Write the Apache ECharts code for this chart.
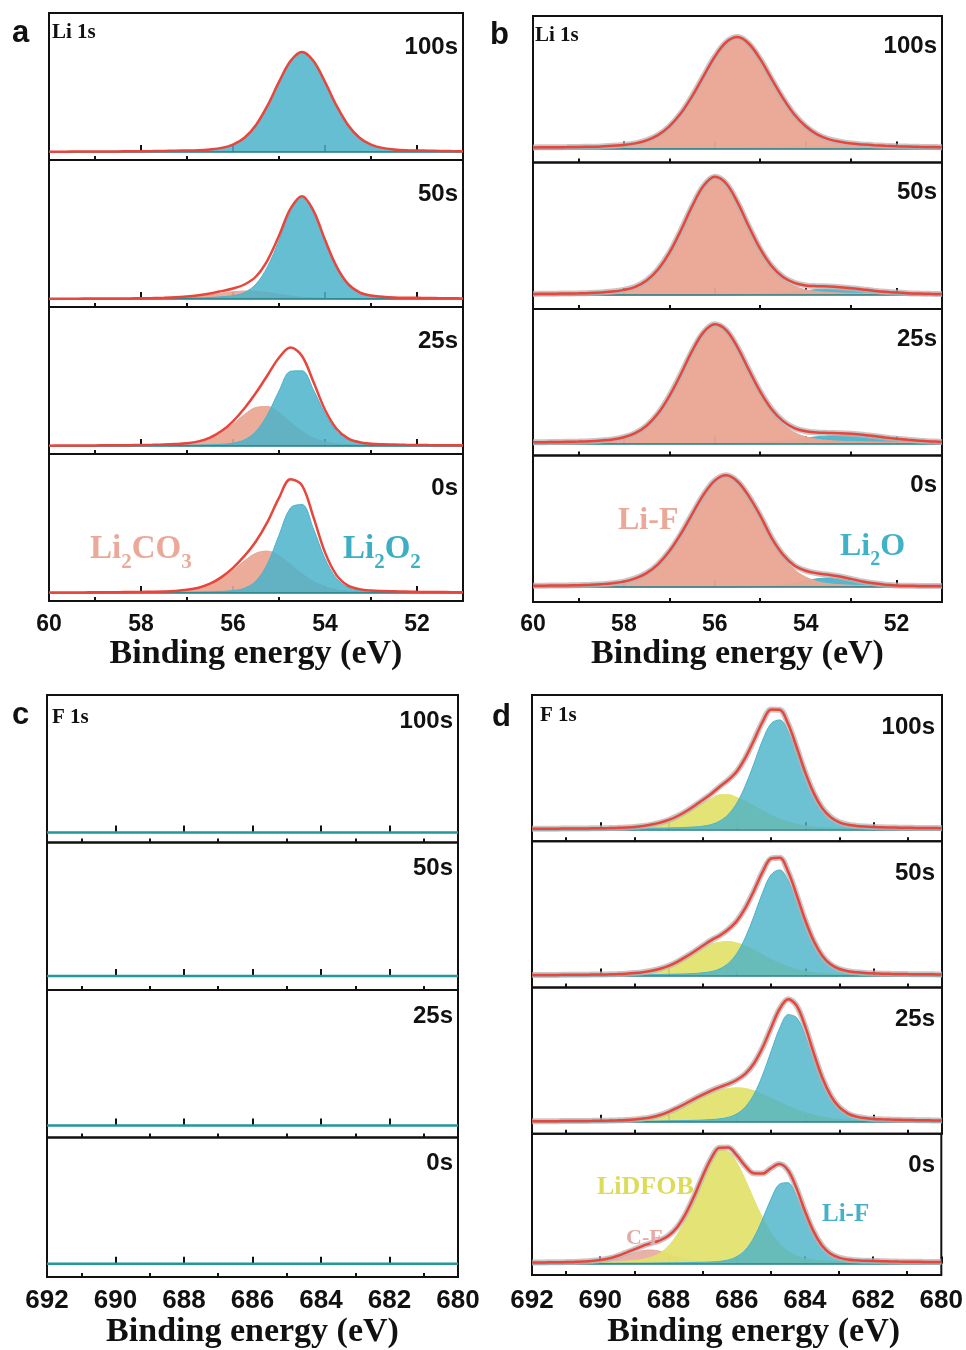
<!DOCTYPE html>
<html>
<head>
<meta charset="utf-8">
<script src="https://cdn.jsdelivr.net/npm/echarts@6/dist/echarts.min.js"></script>
<style>
  html, body { margin: 0; padding: 0; background: #ffffff; }
  #chart { width: 966px; height: 1350px; }
</style>
</head>
<body>
<div id="chart"></div>
<script>
// ---------- energy grids (binding energy, eV) ----------
const liEnergy = [60,59.75,59.5,59.25,59,58.75,58.5,58.25,58,57.75,57.5,57.25,57,56.75,56.5,56.25,56,55.75,55.5,55.25,55,54.75,54.5,54.25,54,53.75,53.5,53.25,53,52.75,52.5,52.25,52,51.75,51.5,51.25,51];
const fEnergy = [692,691.75,691.5,691.25,691,690.75,690.5,690.25,690,689.75,689.5,689.25,689,688.75,688.5,688.25,688,687.75,687.5,687.25,687,686.75,686.5,686.25,686,685.75,685.5,685.25,685,684.75,684.5,684.25,684,683.75,683.5,683.25,683,682.75,682.5,682.25,682,681.75,681.5,681.25,681,680.75,680.5,680.25,680];
const fEnergyCoarse = [692,691,690,689,688,687,686,685,684,683,682,681,680];

// ---------- tick values ----------
const liMajorTicks = [60,58,56,54,52];
const liMinorTicks = [59,57,55,53,51];
const fMajorTicks = [692,690,688,686,684,682,680];
const fMinorTicks = [691,689,687,685,683,681];
const timeLabels = ['100s','50s','25s','0s'];

// ---------- (a) Li 1s ----------
const a100Env    = [0.3,0.3,0.4,0.4,0.5,0.5,0.6,0.7,0.8,0.9,1.1,1.3,1.5,1.8,2.6,4.1,7.4,14.3,27,46.4,70.1,91,100,91,70.1,46.4,27,14.3,7.4,4.1,2.6,1.8,1.5,1.3,1.1,0.9,0.8];
const a100Li2O2  = [0.3,0.3,0.4,0.4,0.5,0.5,0.6,0.7,0.8,0.9,1.1,1.3,1.5,1.8,2.6,4.1,7.4,14.3,27,46.4,70.1,91,100,91,70.1,46.4,27,14.3,7.4,4.1,2.6,1.8,1.5,1.3,1.1,0.9,0.8];

const a50Env     = [0.3,0.3,0.3,0.4,0.4,0.4,0.5,0.6,0.7,0.9,1.2,1.7,2.6,3.7,5.5,7.9,10.5,14.5,22.5,38.7,63.2,90.3,102.8,88.2,59.2,32.6,15.1,6.7,3.4,2.3,1.6,1.3,1.2,1,0.8,0.7,0.6];
const a50Li2O2   = [0.2,0.2,0.2,0.3,0.3,0.3,0.4,0.4,0.5,0.6,0.7,0.9,1.1,1.2,1.5,2.2,3.3,6.5,14.9,32.3,58.6,87.2,101,87.2,58.6,32.3,14.9,6.5,3.3,2.2,1.5,1.2,1.1,0.9,0.7,0.6,0.5];
const a50Li2CO3  = [0.1,0.1,0.1,0.1,0.1,0.1,0.1,0.2,0.2,0.3,0.5,0.8,1.5,2.5,4,5.7,7.2,8,7.6,6.4,4.6,3.1,1.8,1,0.6,0.3,0.2,0.2,0.1,0.1,0.1,0.1,0.1,0.1,0.1,0.1,0.1];

const a25Env     = [0.36,0.43,0.5,0.55,0.6,0.68,0.77,0.83,1,1.14,1.4,1.9,2.7,4.6,8.4,14.9,24.7,37.7,53.2,70.8,88.3,98.5,90,64,36.3,17.3,7.7,3.8,2.35,1.75,1.45,1.2,1.05,0.9,0.8,0.7,0.65];
const a25Li2O2   = [0.2,0.25,0.3,0.3,0.3,0.35,0.4,0.4,0.5,0.5,0.6,0.7,0.8,1,1.2,1.7,2.8,6.2,14.6,31.4,55,74.7,75.2,56,32.2,15.1,6.4,2.9,1.7,1.2,1,0.8,0.7,0.6,0.5,0.45,0.4];
const a25Li2CO3  = [0.16,0.18,0.2,0.25,0.3,0.33,0.37,0.43,0.5,0.64,0.8,1.2,1.9,3.6,7.2,13.2,21.9,31.5,38.6,39.4,33.3,23.8,14.8,8,4.1,2.2,1.3,0.9,0.65,0.55,0.45,0.4,0.35,0.3,0.3,0.25,0.25];

const a0Env      = [0.43,0.47,0.53,0.6,0.67,0.75,0.85,0.95,1.1,1.3,1.57,2.1,3.2,5.3,9.3,15.9,25.2,37.1,51.8,71.2,95.1,113.7,107.6,75.6,40.6,17.9,7.4,3.9,2.5,1.95,1.7,1.45,1.2,1.05,0.95,0.87,0.79];
const a0Li2O2    = [0.23,0.25,0.28,0.3,0.33,0.35,0.4,0.45,0.5,0.55,0.6,0.7,0.8,1,1.2,1.6,2.4,4.8,12,29.3,57.8,85.1,88.4,64.1,34.3,14.5,5.6,2.7,1.6,1.2,1.05,0.9,0.7,0.6,0.55,0.5,0.45];
const a0Li2CO3   = [0.2,0.22,0.25,0.3,0.34,0.4,0.45,0.5,0.6,0.75,0.97,1.4,2.4,4.3,8.1,14.3,22.8,32.3,39.8,41.9,37.3,28.6,19.2,11.5,6.3,3.4,1.8,1.2,0.9,0.75,0.65,0.55,0.5,0.45,0.4,0.37,0.34];

// ---------- (b) Li 1s ----------
const b100Env    = [1,1.2,1.3,1.4,1.6,1.8,2.1,2.8,3.5,5.1,8.2,13.4,22.2,35,52.2,72.15,91.8,106.2,111.4,104.75,89.35,69.6,50.4,34,22.2,14.15,9.4,6.75,5,4.1,3.3,2.7,2.25,1.95,1.7,1.5,1.3];
const b100LiF    = [0.9,1.1,1.2,1.3,1.5,1.7,2,2.7,3.4,5,8.1,13.3,22.1,34.9,52.1,72,91.6,105.9,111,104.2,88.6,68.6,49.1,32.5,20.4,12.2,7.4,4.8,3.2,2.6,2,1.7,1.5,1.4,1.3,1.2,1.1];
const b100Li2O   = [0.1,0.1,0.1,0.1,0.1,0.1,0.1,0.1,0.1,0.1,0.1,0.1,0.1,0.1,0.1,0.15,0.2,0.3,0.4,0.55,0.75,1,1.3,1.5,1.8,1.95,2,1.95,1.8,1.5,1.3,1,0.75,0.55,0.4,0.3,0.2];

const b50Env     = [1.1,1.2,1.3,1.5,1.7,2,2.6,3.4,5.1,8.2,14.5,25.5,42.2,64.3,88.6,108.9,118.2,111.5,92.6,68.5,46.1,29,18,12.2,9.6,8.8,8.5,7.8,6.85,5.6,4.35,3.25,2.4,1.8,1.44,1.18,1.04];
const b50LiF     = [1,1.1,1.2,1.4,1.6,1.9,2.5,3.3,5,8.1,14.4,25.4,42.1,64.2,88.5,108.8,118,111.3,92.3,68,45.3,27.6,15.8,9,5.2,3.4,2.6,2,1.65,1.5,1.35,1.25,1.15,1.05,1,0.9,0.85];
const b50Li2O    = [0.1,0.1,0.1,0.1,0.1,0.1,0.1,0.1,0.1,0.1,0.1,0.1,0.1,0.1,0.1,0.12,0.15,0.2,0.3,0.5,0.8,1.4,2.2,3.2,4.4,5.4,5.9,5.8,5.2,4.1,3,2,1.25,0.75,0.44,0.28,0.19];

const b25Env     = [1.2,1.35,1.5,1.7,1.9,2.3,3,4,6.3,10.4,17.8,29.9,47.43,69.05,92.3,111.15,119.3,113.4,96.2,73.6,51.9,34.3,22.4,15.4,12.2,10.9,10.6,10.3,9.7,8.8,7.5,6.05,4.75,3.65,2.75,2.1,1.62];
const b25LiF     = [1.1,1.25,1.4,1.6,1.8,2.2,2.9,3.9,6.2,10.3,17.7,29.8,47.3,68.9,92.1,110.9,119,113,95.6,72.7,50.5,32.1,19.3,11.2,6.7,4.2,3,2.3,1.9,1.7,1.5,1.35,1.25,1.15,1.05,1,0.9];
const b25Li2O    = [0.1,0.1,0.1,0.1,0.1,0.1,0.1,0.1,0.1,0.1,0.1,0.1,0.13,0.15,0.2,0.25,0.3,0.4,0.6,0.9,1.4,2.2,3.1,4.2,5.5,6.7,7.6,8,7.8,7.1,6,4.7,3.5,2.5,1.7,1.1,0.72];

const b0Env      = [1.2,1.35,1.45,1.6,1.85,2.25,2.8,3.7,5.4,8.6,13.9,22.7,35.7,52.8,72.7,92.1,106.4,111.7,105.5,90.65,71.4,49.2,32.4,21.6,16.3,13.7,12.3,10.5,8.1,5.6,3.7,2.3,1.6,1.3,1.12,1.02,0.94];
const b0LiF      = [1.1,1.25,1.35,1.5,1.75,2.15,2.7,3.6,5.3,8.5,13.8,22.6,35.6,52.7,72.6,92,106.3,111.5,105.3,90.3,70.8,48,30,17.5,10,5.5,3.3,2.3,1.8,1.5,1.3,1.1,1,0.95,0.9,0.85,0.8];
const b0Li2O     = [0.1,0.1,0.1,0.1,0.1,0.1,0.1,0.1,0.1,0.1,0.1,0.1,0.1,0.1,0.1,0.1,0.14,0.17,0.22,0.35,0.6,1.2,2.4,4.1,6.3,8.2,9,8.2,6.3,4.1,2.4,1.2,0.6,0.35,0.22,0.17,0.14];

// ---------- (c) F 1s ----------
const c100Trace  = [0,0,0,0,0,0,0,0,0,0,0,0,0];
const c50Trace   = [0,0,0,0,0,0,0,0,0,0,0,0,0];
const c25Trace   = [0,0,0,0,0,0,0,0,0,0,0,0,0];
const c0Trace    = [0,0,0,0,0,0,0,0,0,0,0,0,0];

// ---------- (d) F 1s ----------
const d100Env    = [0.48,0.52,0.55,0.61,0.65,0.72,0.8,0.9,1,1.15,1.4,1.8,2.37,3.3,4.65,6.6,9.3,13,17.8,23.3,29.3,35.5,42.8,49.5,58.1,71.8,89.2,107.5,119.8,119.5,104.9,81.6,56.6,35.9,20.9,11.9,6.95,4.55,3.35,2.68,2.25,2,1.75,1.58,1.45,1.32,1.25,1.18,1.11];
const d100LiF    = [0.28,0.3,0.3,0.33,0.35,0.38,0.42,0.46,0.5,0.55,0.6,0.7,0.77,0.9,1.05,1.2,1.3,1.5,1.8,2.3,3.1,4.7,8.3,14.9,26.4,44,66,89.1,105.8,109.3,97.7,76.6,53.2,33.6,19.3,10.7,6,3.7,2.6,2,1.65,1.45,1.25,1.1,1,0.9,0.85,0.8,0.75];
const d100DFOB   = [0.2,0.22,0.25,0.28,0.3,0.34,0.38,0.44,0.5,0.6,0.8,1.1,1.6,2.4,3.6,5.4,8,11.5,16,21,26.2,30.8,34.5,34.6,31.7,27.8,23.2,18.4,14,10.2,7.2,5,3.4,2.3,1.6,1.2,0.95,0.85,0.75,0.68,0.6,0.55,0.5,0.48,0.45,0.42,0.4,0.38,0.36];

const d50Env     = [0.49,0.53,0.56,0.61,0.66,0.73,0.8,0.9,1.03,1.22,1.47,1.83,2.39,3.28,4.7,6.75,9.7,13.7,18.6,24,29.7,35.4,40,46.3,54.8,67.9,85,103.6,117,117.7,103.5,80,55,34.2,19.6,10.9,6.5,4.3,3.15,2.45,2.08,1.83,1.65,1.52,1.39,1.29,1.21,1.13,1.05];
const d50LiF     = [0.25,0.27,0.28,0.3,0.32,0.35,0.38,0.43,0.48,0.52,0.57,0.63,0.69,0.78,0.9,1.05,1.2,1.4,1.6,2,2.7,3.9,6.7,12.3,22.3,38.4,59.7,83,100.9,105.6,94.8,73.9,50.8,31.3,17.6,9.5,5.4,3.4,2.4,1.8,1.5,1.3,1.15,1.05,0.95,0.88,0.82,0.76,0.7];
const d50DFOB    = [0.24,0.26,0.28,0.31,0.34,0.38,0.42,0.47,0.55,0.7,0.9,1.2,1.7,2.5,3.8,5.7,8.5,12.3,17,22,27,31.5,33.3,34,32.5,29.5,25.3,20.6,16.1,12.1,8.7,6.1,4.2,2.9,2,1.4,1.1,0.9,0.75,0.65,0.58,0.53,0.5,0.47,0.44,0.41,0.39,0.37,0.35];

const d25Env     = [0.5,0.53,0.56,0.61,0.67,0.73,0.8,0.89,1.01,1.2,1.44,1.79,2.34,3.2,4.58,6.8,9.94,13.9,18.24,22.9,27.2,31.2,34.7,37.8,42,48.2,58.5,74.2,94.1,113,122.5,115.8,94.8,68.1,43.7,25.7,14.3,8.2,5.1,3.65,2.85,2.43,2.15,1.93,1.73,1.59,1.48,1.37,1.29];
const d25LiF     = [0.22,0.23,0.24,0.26,0.28,0.3,0.32,0.34,0.36,0.4,0.44,0.49,0.54,0.6,0.68,0.8,0.94,1.1,1.24,1.4,1.7,2.2,2.9,4.5,8,15,27.6,46.7,70.5,93.6,107.1,103.9,85.9,61.6,39.1,22.4,11.9,6.5,3.8,2.6,1.95,1.65,1.45,1.3,1.15,1.05,0.98,0.9,0.85];
const d25DFOB    = [0.28,0.3,0.32,0.35,0.39,0.43,0.48,0.55,0.65,0.8,1,1.3,1.8,2.6,3.9,6,9,12.8,17,21.5,25.5,29,31.8,33.3,34,33.2,30.9,27.5,23.6,19.4,15.4,11.9,8.9,6.5,4.6,3.3,2.4,1.7,1.3,1.05,0.9,0.78,0.7,0.63,0.58,0.54,0.5,0.47,0.44];

const d0Env      = [1.05,1.12,1.21,1.31,1.47,1.68,2,2.53,3.56,5.13,7.71,11.04,14.58,18.22,21.1,23.88,28.78,37.28,51.1,69.4,90,108.6,119.8,119.9,112.1,101.05,93.4,93.05,98.45,102.85,96.65,78.25,54.4,33.5,18.7,10.1,6.1,4.2,3.35,2.9,2.6,2.35,2.15,2,1.88,1.77,1.67,1.58,1.5];
const d0LiF      = [0.15,0.15,0.16,0.16,0.17,0.18,0.2,0.23,0.26,0.28,0.31,0.34,0.38,0.42,0.5,0.58,0.68,0.78,0.9,1.1,1.3,1.6,2.2,3.6,7,13.8,26.4,45,66.1,82,83.6,70.1,49.1,29.7,15.8,7.8,4.1,2.4,1.7,1.4,1.2,1.05,0.95,0.85,0.78,0.72,0.67,0.63,0.6];
const d0DFOB     = [0.75,0.8,0.85,0.9,1,1.1,1.2,1.3,1.5,1.65,2,2.5,3.1,4.4,6.6,10.7,18.1,29.5,45.8,65.7,87.3,106.2,117.1,115.9,104.8,87,66.8,47.9,32.2,20.7,12.9,8,5.2,3.7,2.8,2.2,1.9,1.7,1.55,1.4,1.3,1.2,1.1,1.05,1,0.95,0.9,0.85,0.8];
const d0CF       = [0.15,0.17,0.2,0.25,0.3,0.4,0.6,1,1.8,3.2,5.4,8.2,11.1,13.4,14,12.6,10,7,4.4,2.6,1.4,0.8,0.5,0.4,0.3,0.25,0.2,0.15,0.15,0.15,0.15,0.15,0.1,0.1,0.1,0.1,0.1,0.1,0.1,0.1,0.1,0.1,0.1,0.1,0.1,0.1,0.1,0.1,0.1];

// ---------- styles ----------
const SANS = '"Liberation Sans", Arial, sans-serif';
const SERIF = '"Liberation Serif", "Times New Roman", serif';
const INK = '#111111';
const COMP = {
  li2o2: { color: '#4cb3c9', opacity: 0.86, z: 3 },
  li2co3:{ color: '#e9a591', opacity: 0.92, z: 2 },
  lifB:  { color: '#eaa794', opacity: 0.96, z: 3 },
  li2o:  { color: '#4cb3c9', opacity: 0.95, z: 2 },
  cf:    { color: '#e8aaa4', opacity: 0.92, z: 2 },
  dfob:  { color: '#e2e26a', opacity: 0.92, z: 3 },
  lifD:  { color: '#4cb3c9', opacity: 0.82, z: 4 }
};
const ENVELOPE_COLOR = '#e8453c';
const BASELINE_COLOR = '#1f7c84';
const TRACE_COLOR = '#23979b';
const RAW_COLOR = '#b4b4b4';

// ---------- panels ----------
const PANELS = {
  a: { energy: liEnergy, min: 51, max: 60, major: liMajorTicks, minor: liMinorTicks, title: 'Li 1s', raw: false,
       rows: [
         { env: a100Env, comps: [['li2o2', a100Li2O2]] },
         { env: a50Env,  comps: [['li2co3', a50Li2CO3], ['li2o2', a50Li2O2]] },
         { env: a25Env,  comps: [['li2co3', a25Li2CO3], ['li2o2', a25Li2O2]] },
         { env: a0Env,   comps: [['li2co3', a0Li2CO3], ['li2o2', a0Li2O2]] }
       ] },
  b: { energy: liEnergy, min: 51, max: 60, major: liMajorTicks, minor: liMinorTicks, title: 'Li 1s', raw: true,
       rows: [
         { env: b100Env, comps: [['li2o', b100Li2O], ['lifB', b100LiF]] },
         { env: b50Env,  comps: [['li2o', b50Li2O], ['lifB', b50LiF]] },
         { env: b25Env,  comps: [['li2o', b25Li2O], ['lifB', b25LiF]] },
         { env: b0Env,   comps: [['li2o', b0Li2O], ['lifB', b0LiF]] }
       ] },
  c: { energy: fEnergyCoarse, min: 680, max: 692, major: fMajorTicks, minor: fMinorTicks, title: 'F 1s', raw: false,
       rows: [
         { trace: c100Trace }, { trace: c50Trace }, { trace: c25Trace }, { trace: c0Trace }
       ] },
  d: { energy: fEnergy, min: 680, max: 692, major: fMajorTicks, minor: fMinorTicks, title: 'F 1s', raw: true,
       rows: [
         { env: d100Env, comps: [['dfob', d100DFOB], ['lifD', d100LiF]] },
         { env: d50Env,  comps: [['dfob', d50DFOB], ['lifD', d50LiF]] },
         { env: d25Env,  comps: [['dfob', d25DFOB], ['lifD', d25LiF]] },
         { env: d0Env,   comps: [['cf', d0CF], ['dfob', d0DFOB], ['lifD', d0LiF]] }
       ] }
};

// frame geometry of each stacked panel (pixels)
const LAYOUT = {
  a: { left: 49,  top: 13,  width: 414, rowH: 147,    base: [8, 8, 8, 8],     tagX: 12,  tagY: 33,  headX: 52,  headY: 33,  timeDy: 34, timeRight: 458, tickFont: 23, labelMargin: 12, nameGap: 33, namePad: 0 },
  b: { left: 533, top: 16,  width: 409, rowH: 146.5,  base: [14, 14, 12, 15], tagX: 490, tagY: 35,  headX: 535, headY: 36,  timeDy: 30, timeRight: 937, tickFont: 23, labelMargin: 11, nameGap: 32, namePad: 0 },
  c: { left: 47,  top: 695, width: 411, rowH: 147.5,  base: [10, 14, 12, 14], tagX: 12,  tagY: 715, headX: 52,  headY: 718, timeDy: 26, timeRight: 453, tickFont: 26, labelMargin: 11, nameGap: 32, namePad: 0 },
  d: { left: 532, top: 695, width: 410, rowH: 146.25, base: [12, 12, 12, 12], tagX: 492, tagY: 717, headX: 540, headY: 716, timeDy: 32, timeRight: 935, tickFont: 26, labelMargin: 13, nameGap: 36, namePad: 34 }
};

const option = { animation: false, backgroundColor: '#ffffff', grid: [], xAxis: [], yAxis: [], series: [], graphic: [] };

function pairs(energy, vals) { return energy.map((e, i) => [e, vals[i]]); }

function addText(x, y, text, font, fill, align) {
  option.graphic.push({
    type: 'text', x: x, y: y, silent: true, z: 100,
    style: { text: text, font: font, fill: fill, align: align, verticalAlign: 'middle', textAlign: align, textVerticalAlign: 'middle' }
  });
}

let gridIndex = 0;
Object.keys(PANELS).forEach(key => {
  const P = PANELS[key];
  const L = LAYOUT[key];
  P.rows.forEach((row, r) => {
    const top = L.top + r * L.rowH;
    const last = r === P.rows.length - 1;
    option.grid.push({ left: L.left, top: top, width: L.width, height: L.rowH, show: true,
                       borderColor: INK, borderWidth: 2, backgroundColor: 'transparent' });
    option.xAxis.push({
      gridIndex: gridIndex, type: 'value', min: P.min, max: P.max, inverse: true, position: 'bottom',
      axisLine: { show: false }, splitLine: { show: false },
      axisTick: { show: true, inside: true, length: 7, customValues: P.major, lineStyle: { color: INK, width: 2 } },
      axisLabel: { show: last, customValues: P.major, margin: L.labelMargin, fontFamily: SANS, fontWeight: 'bold',
                   fontSize: L.tickFont, color: INK },
      name: last ? 'Binding energy (eV)' : '', nameLocation: 'middle', nameGap: L.nameGap,
      nameTextStyle: { fontFamily: SERIF, fontWeight: 'bold', fontSize: 34, color: INK, padding: [0, 0, 0, L.namePad] }
    });
    const xMajor = option.xAxis.length - 1;
    option.xAxis.push({
      gridIndex: gridIndex, type: 'value', min: P.min, max: P.max, inverse: true, position: 'bottom',
      axisLine: { show: false }, splitLine: { show: false },
      axisTick: { show: true, inside: true, length: 4, customValues: P.minor, lineStyle: { color: INK, width: 2 } },
      axisLabel: { show: false }
    });
    option.yAxis.push({ gridIndex: gridIndex, type: 'value', min: -L.base[r], max: L.rowH - L.base[r], show: false });

    const common = { type: 'line', xAxisIndex: xMajor, yAxisIndex: gridIndex, symbol: 'none', smooth: 0.35, silent: true };

    if (row.trace) {
      option.series.push(Object.assign({}, common, {
        data: pairs(P.energy, row.trace), smooth: false, z: 5,
        lineStyle: { color: TRACE_COLOR, width: 2.5 }
      }));
    } else {
      row.comps.forEach(([name, vals], k) => {
        const s = COMP[name];
        const ser = Object.assign({}, common, {
          data: pairs(P.energy, vals), z: s.z,
          lineStyle: { color: s.color, width: 1 },
          areaStyle: { color: s.color, opacity: s.opacity }
        });
        if (k === 0) {
          ser.markLine = { silent: true, symbol: 'none', label: { show: false },
                           lineStyle: { color: BASELINE_COLOR, width: 1.5, type: 'solid' },
                           data: [{ yAxis: 0 }] };
        }
        option.series.push(ser);
      });
      if (P.raw) {
        option.series.push(Object.assign({}, common, {
          data: pairs(P.energy, row.env), z: 5,
          lineStyle: { color: RAW_COLOR, width: 6, opacity: 0.75 }
        }));
      }
      option.series.push(Object.assign({}, common, {
        data: pairs(P.energy, row.env), z: 6,
        lineStyle: { color: ENVELOPE_COLOR, width: 2.5 }
      }));
    }

    addText(L.timeRight, top + L.timeDy, timeLabels[r], 'bold 24px ' + SANS, INK, 'right');
    gridIndex++;
  });
  addText(L.tagX, L.tagY, key, 'bold 31px ' + SANS, INK, 'left');
  addText(L.headX, L.headY, P.title, 'bold 21px ' + SERIF, INK, 'left');
});

// peak assignments in the bottom (0s) frames
function addRich(x, y, parts, size, subSize, fill) {
  const rich = {
    m: { font: 'bold ' + size + 'px ' + SERIF, fill: fill, verticalAlign: 'bottom', padding: [0, 0, Math.round(size * 0.22), 0] },
    s: { font: 'bold ' + subSize + 'px ' + SERIF, fill: fill, verticalAlign: 'bottom' }
  };
  option.graphic.push({ type: 'text', x: x, y: y, silent: true, z: 100,
    style: { text: parts, rich: rich, align: 'left', verticalAlign: 'middle', textAlign: 'left', textVerticalAlign: 'middle' } });
}
addRich(90, 553, '{m|Li}{s|2}{m|CO}{s|3}', 33, 21, '#eba99a');
addRich(343, 553, '{m|Li}{s|2}{m|O}{s|2}', 33, 21, '#3eaec4');
addRich(618, 524, '{m|Li-F}', 32, 20, '#eaa898');
addRich(840, 550, '{m|Li}{s|2}{m|O}', 32, 20, '#3fb2c9');
addRich(597, 1190, '{m|LiDFOB}', 26, 18, '#dcdc58');
addRich(822, 1218, '{m|Li-F}', 25, 18, '#45b0c8');
addRich(626, 1241, '{m|C-F}', 22, 16, '#e3aaa8');

const chart = echarts.init(document.getElementById('chart'), null, { renderer: 'canvas' });
chart.setOption(option);
</script>
</body>
</html>
